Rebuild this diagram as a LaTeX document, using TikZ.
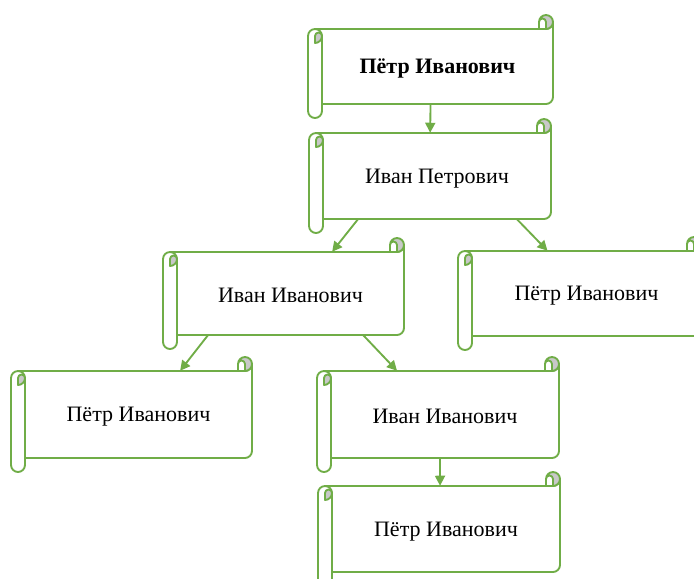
\documentclass[tikz,border=0pt]{standalone}
\usepackage{fontspec}
\setmainfont{Liberation Serif}
\usetikzlibrary{calc,arrows.meta}
\definecolor{sbgreen}{RGB}{112,173,71}
\definecolor{curlgray}{RGB}{200,200,200}
\tikzset{
  sbline/.style={draw=sbgreen,line width=1.4pt,line join=round},
  sbbody/.style={draw=none,inner sep=0pt},
  sbtext/.style={draw=none,inner sep=0pt,font=\fontsize{16.5}{19}\selectfont},
  arr/.style={draw=sbgreen,line width=1.4pt,-{Triangle[length=7.5pt,width=7.5pt]}}
}
\newcommand\scrollbox[6]{%
  \pgfmathsetmacro\sbL{#2}\pgfmathsetmacro\sbT{-#3}%
  \pgfmathsetmacro\sbR{#4}\pgfmathsetmacro\sbB{-#5}%
  \pgfmathsetmacro\sbW{(#4-#2-14)*0.75}\pgfmathsetmacro\sbH{(#5-#3-28)*0.75}%
  \pgfmathsetmacro\sbCx{(#2+14+#4)/2}\pgfmathsetmacro\sbCy{-(#3+#5)/2}%
  \filldraw[sbline,fill=white]
    (\sbL+7,\sbT-14) -- (\sbR-7,\sbT-14) arc[start angle=-90,end angle=0,radius=7]
    -- (\sbR,\sbB+21) arc[start angle=0,end angle=-90,radius=7]
    -- (\sbL+14,\sbB+14) -- (\sbL+14,\sbB+7) arc[start angle=0,end angle=-180,radius=7]
    -- (\sbL,\sbT-21) arc[start angle=180,end angle=90,radius=7] -- cycle;
  \draw[sbline] (\sbL+7,\sbT-14) arc[start angle=90,end angle=0,radius=7] -- (\sbL+14,\sbB+14);
  \filldraw[sbline,fill=curlgray] (\sbL+7,\sbT-28) arc[start angle=-90,end angle=0,radius=7]
    arc[start angle=0,end angle=180,radius=3.5] -- cycle;
  \fill[curlgray] (\sbR-7,\sbT-14) arc[start angle=-90,end angle=180,radius=7]
    arc[start angle=180,end angle=0,radius=3.5] -- cycle;
  \draw[sbline] (\sbR-7,\sbT-14) arc[start angle=-90,end angle=180,radius=7]
    arc[start angle=180,end angle=0,radius=3.5] -- (\sbR-7,\sbT-14);
  \draw[sbline] (\sbR-14,\sbT-7) -- (\sbR-14,\sbT-14);
  \node[sbbody,minimum width=\sbW pt,minimum height=\sbH pt] (#1) at (\sbCx,\sbCy) {};
  \node[sbtext] (#1t) at ([yshift=-1.8pt]#1.center) {#6};
}
\begin{document}
\begin{tikzpicture}[x=0.75pt,y=0.75pt]
\useasboundingbox (0,0) rectangle (694,-579);
\clip (0,0) rectangle (694,-579);
\scrollbox{b1}{308}{15}{553}{118}{\textbf{Пётр Иванович}}
\scrollbox{b2}{309}{119}{551}{233}{Иван Петрович}
\scrollbox{b3}{163}{238}{404}{349}{Иван Иванович}
\scrollbox{b4}{458}{237}{701}{350}{Пётр Иванович}
\scrollbox{b5}{11}{357}{252}{472}{Пётр Иванович}
\scrollbox{b6}{317}{357}{559}{472}{Иван Иванович}
\scrollbox{b7}{318}{472}{560}{586}{Пётр Иванович}
\draw[arr] ($(b1.south west)!0.47!(b1.south east)$) -- ($(b2.north west)!0.47!(b2.north east)$);
\draw[arr] ($(b2.south west)!0.154!(b2.south east)$) -- ($(b3.north west)!0.683!(b3.north east)$);
\draw[arr] ($(b2.south west)!0.85!(b2.south east)$) -- ($(b4.north west)!0.33!(b4.north east)$);
\draw[arr] ($(b3.south west)!0.137!(b3.south east)$) -- ($(b5.north west)!0.683!(b5.north east)$);
\draw[arr] ($(b3.south west)!0.82!(b3.south east)$) -- ($(b6.north west)!0.29!(b6.north east)$);
\draw[arr] ($(b6.south west)!0.478!(b6.south east)$) -- ($(b7.north west)!0.474!(b7.north east)$);
\end{tikzpicture}
\end{document}
